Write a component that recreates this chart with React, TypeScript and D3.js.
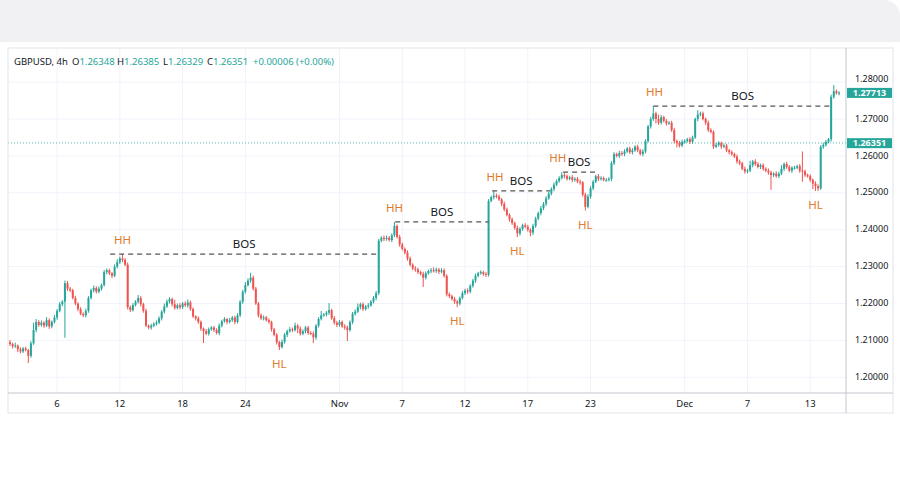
import React from "react";
import * as d3 from "d3";

// GBPUSD 4h, Oct 3 – Dec 14 2023. Prices are pips above 1.20000, six bars per trading day.
const BASE = 1.2;
const PIP = 0.0001;
const firstOpen = 95;

const closes = [
  90, 84, 86, 76, 70, 78,
  74, 58, 92, 128, 150, 142,
  148, 140, 155, 138, 150, 162,
  180, 198, 205, 255, 240, 236,
  215, 200, 185, 172, 168, 180,
  215, 236, 242, 232, 240, 250,
  285, 290, 282, 275, 300, 312,
  322, 318, 305, 190, 182, 196,
  205, 215, 198, 180, 140, 135,
  140, 145, 148, 160, 178, 192,
  205, 212, 198, 188, 195, 190,
  200, 195, 203, 185, 165, 160,
  150, 132, 125, 118, 130, 135,
  128, 120, 140, 152, 158, 150,
  155, 162, 150, 168, 205, 232,
  250, 262, 270, 240, 200, 168,
  160, 162, 155, 150, 130, 115,
  95, 82, 96, 115, 125, 130,
  128, 140, 132, 118, 125, 135,
  120, 118, 108, 140, 158, 168,
  170, 175, 182, 160, 148, 142,
  150, 138, 135, 128, 150, 172,
  178, 190, 198, 185, 192, 195,
  205, 215, 228, 370, 378, 375,
  378, 372, 385, 410, 380, 360,
  348, 338, 322, 305, 295, 292,
  285, 280, 270, 282, 288, 290,
  288, 292, 286, 290, 275, 225,
  220, 212, 205, 200, 215, 228,
  235, 232, 248, 262, 275, 282,
  285, 280, 278, 478, 488, 492,
  490, 482, 470, 455, 440, 428,
  418, 405, 390, 402, 412, 408,
  400, 392, 410, 430, 445, 458,
  470, 485, 498, 510, 522, 532,
  540, 548, 545, 538, 542, 535,
  538, 530, 528, 495, 462, 490,
  512, 530, 545, 538, 540, 535,
  535, 538, 580, 605, 600, 608,
  605, 612, 620, 610, 615, 625,
  615, 605, 612, 640, 680, 700,
  715, 700, 690, 705, 695, 688,
  690, 670, 640, 635, 628, 638,
  640, 645, 638, 650, 700, 712,
  715, 700, 690, 670, 665, 625,
  630, 635, 625, 628, 615, 610,
  605, 598, 585, 580, 565, 558,
  560, 575, 585, 578, 570, 575,
  565, 560, 555, 548, 552, 545,
  552, 565, 578, 570, 560, 568,
  568, 572, 560, 558, 548, 545,
  535, 525, 518, 512, 625, 630,
  638, 645, 760, 775, 770, 771.3,
];

const upperWicks = [
  6, 4, 8, 3, 5, 4,
  5, 3, 6, 20, 8, 5,
  6, 4, 8, 5, 4, 7,
  5, 6, 4, 7, 6, 5,
  4, 6, 3, 5, 4, 6,
  5, 4, 7, 5, 6, 4,
  6, 5, 4, 3, 6, 8,
  5, 12, 5, 6, 4, 5,
  4, 8, 5, 4, 6, 3,
  5, 4, 6, 5, 4, 8,
  6, 5, 4, 12, 5, 6,
  4, 6, 8, 5, 4, 3,
  5, 4, 3, 6, 5, 4,
  4, 5, 6, 4, 5, 3,
  6, 4, 5, 6, 4, 5,
  8, 6, 13, 6, 5, 4,
  5, 6, 4, 5, 3, 4,
  5, 4, 6, 5, 4, 6,
  5, 8, 4, 6, 5, 4,
  4, 5, 6, 4, 5, 12,
  4, 5, 19, 4, 6, 5,
  5, 4, 6, 5, 4, 5,
  6, 10, 4, 5, 4, 6,
  4, 5, 6, 5, 4, 6,
  6, 5, 5, 11, 4, 6,
  5, 4, 6, 5, 4, 6,
  5, 4, 6, 5, 4, 6,
  8, 5, 4, 6, 5, 4,
  5, 4, 6, 5, 4, 6,
  5, 6, 4, 5, 6, 4,
  5, 4, 6, 5, 4, 13,
  6, 5, 4, 6, 5, 4,
  5, 4, 6, 5, 4, 6,
  5, 4, 6, 5, 4, 6,
  5, 6, 4, 5, 6, 4,
  5, 8, 6, 5, 4, 6,
  4, 5, 6, 4, 5, 6,
  6, 5, 4, 6, 5, 4,
  5, 4, 6, 5, 4, 6,
  5, 6, 4, 5, 6, 4,
  5, 4, 6, 5, 4, 6,
  20, 5, 12, 6, 4, 5,
  4, 5, 6, 4, 5, 6,
  5, 4, 6, 5, 4, 12,
  5, 5, 4, 6, 5, 4,
  6, 5, 4, 6, 5, 4,
  5, 4, 6, 5, 4, 6,
  5, 12, 4, 6, 5, 4,
  5, 4, 6, 5, 4, 6,
  5, 10, 4, 6, 5, 4,
  5, 4, 6, 52, 5, 4,
  5, 4, 6, 5, 4, 6,
  5, 4, 6, 17, 5, 4,
];

const lowerWicks = [
  5, 6, 4, 8, 5, 4,
  4, 19, 5, 4, 6, 5,
  5, 6, 4, 7, 5, 4,
  6, 4, 5, 98, 6, 5,
  4, 5, 6, 4, 5, 6,
  5, 4, 6, 5, 4, 5,
  4, 6, 5, 6, 4, 5,
  5, 6, 4, 6, 5, 4,
  4, 5, 6, 5, 4, 5,
  6, 4, 5, 4, 6, 5,
  4, 5, 6, 5, 4, 6,
  5, 4, 6, 5, 4, 6,
  5, 6, 32, 4, 5, 4,
  5, 4, 6, 5, 4, 6,
  4, 5, 6, 4, 5, 6,
  5, 4, 6, 5, 4, 6,
  5, 6, 4, 5, 6, 4,
  6, 8, 4, 5, 6, 4,
  5, 4, 12, 5, 4, 6,
  5, 4, 15, 6, 5, 4,
  4, 5, 6, 4, 5, 6,
  5, 4, 6, 30, 4, 6,
  5, 4, 6, 5, 4, 6,
  4, 5, 6, 5, 4, 6,
  5, 4, 6, 5, 4, 6,
  4, 5, 6, 4, 5, 6,
  5, 4, 25, 5, 4, 6,
  4, 5, 6, 4, 5, 6,
  5, 4, 6, 10, 5, 4,
  5, 6, 4, 5, 6, 4,
  4, 5, 6, 5, 4, 6,
  5, 4, 6, 5, 4, 6,
  5, 5, 10, 6, 5, 4,
  5, 10, 6, 5, 4, 6,
  5, 6, 4, 5, 6, 4,
  5, 4, 6, 5, 4, 6,
  5, 4, 6, 5, 10, 4,
  6, 5, 4, 6, 5, 4,
  5, 4, 6, 5, 4, 6,
  5, 6, 4, 5, 6, 4,
  5, 4, 6, 5, 4, 6,
  5, 12, 6, 5, 4, 6,
  4, 5, 6, 12, 5, 4,
  5, 4, 6, 5, 4, 6,
  5, 4, 6, 5, 4, 6,
  4, 5, 6, 4, 5, 6,
  5, 4, 6, 5, 4, 6,
  5, 4, 6, 5, 4, 6,
  5, 4, 6, 40, 5, 4,
  5, 4, 6, 5, 4, 6,
  5, 4, 6, 28, 5, 4,
  5, 15, 13, 7, 4, 6,
  5, 4, 6, 5, 4, 6,
];

const dayTicks = [
  { label: "6", day: 3 },
  { label: "12", day: 7 },
  { label: "18", day: 11 },
  { label: "24", day: 15 },
  { label: "Nov", day: 21 },
  { label: "7", day: 25 },
  { label: "12", day: 29 },
  { label: "17", day: 33 },
  { label: "23", day: 37 },
  { label: "Dec", day: 43 },
  { label: "7", day: 47 },
  { label: "13", day: 51 },
];
const BARS_PER_DAY = 6;

const priceTicks = [1.2, 1.21, 1.22, 1.23, 1.24, 1.25, 1.26, 1.27, 1.28];

// swing bar, and the bar the label sits over
const swingHighs = [
  { bar: 43, at: 43 },
  { bar: 147, at: 147 },
  { bar: 185, at: 185.5 },
  { bar: 211, at: 209.5 },
  { bar: 246, at: 246.5 },
];
const swingLows = [103, 171, 194, 220, 308];
const breaks = [
  { from: 38.3, to: 140.8, bar: 43 },
  { from: 147.3, to: 183, bar: 147 },
  { from: 184.4, to: 206.5, bar: 185 },
  { from: 211.5, to: 223.7, bar: 211 },
  { from: 246, to: 314.4, bar: 246 },
];

const crossPrice = 1.26351;
const header = [
  { text: "GBPUSD, 4h", value: "" },
  { text: "O", value: "1.26348" },
  { text: "H", value: "1.26385" },
  { text: "L", value: "1.26329" },
  { text: "C", value: "1.26351" },
  { text: "", value: "+0.00006 (+0.00%)" },
];
const headerX = [14, 72, 117, 163, 207, 253];

const UP = "#26a69a";
const DOWN = "#ef5350";
const ORANGE = "#e07a2c";
const GRID = "#f0f3fa";
const TEXT = "#131722";
const FONT = "'Noto Sans', 'DejaVu Sans', sans-serif";

export default function App() {
  const candles = closes.map((c, i) => {
    const o = i === 0 ? firstOpen : closes[i - 1];
    const h = Math.max(o, c) + upperWicks[i];
    const l = Math.min(o, c) - lowerWicks[i];
    return { i, o: BASE + o * PIP, c: BASE + c * PIP, h: BASE + h * PIP, l: BASE + l * PIP };
  });

  const left = 8, top = 48, right = 846, bottom = 393, outerRight = 893, outerBottom = 413;

  const x = d3.scaleLinear().domain([0, candles.length - 1]).range([10, 839]);
  const y = d3.scaleLinear().domain([1.2, 1.28]).range([377.3, 82.1]);
  const bodyW = 2;
  const last = candles[candles.length - 1];
  const boxes = [last.c, crossPrice];

  // nudge a tick label away from a price box that sits right next to it
  const tickY = (p: number) => {
    let ty = y(p);
    boxes.forEach((b) => {
      const d = ty - y(b);
      if (Math.abs(d) < 13) ty += (d < 0 ? -1 : 1) * (13 - Math.abs(d));
    });
    return ty;
  };

  return (
    <svg width={900} height={500} style={{ position: "absolute", left: 0, top: 0 }} fontFamily={FONT}>
      <rect width={900} height={500} fill="#fff" />
      <path d="M0,0 H884 A16,16 0 0 1 900,16 V42 H0 Z" fill="#f1f1f4" />

      {/* grid */}
      {priceTicks.map((p) => (
        <line key={p} x1={left} x2={right} y1={y(p)} y2={y(p)} stroke={GRID} />
      ))}
      {dayTicks.map((t, k) => (
        <line key={k} x1={x(t.day * BARS_PER_DAY)} x2={x(t.day * BARS_PER_DAY)} y1={top} y2={bottom} stroke={GRID} />
      ))}

      {/* crosshair price line */}
      <line x1={left} x2={right} y1={y(crossPrice)} y2={y(crossPrice)} stroke={UP} strokeOpacity={0.8} strokeDasharray="1,2" />

      {/* candles */}
      {candles.map((d) => {
        const col = d.c >= d.o ? UP : DOWN;
        const cx = x(d.i);
        const yTop = y(Math.max(d.o, d.c));
        const yBot = y(Math.min(d.o, d.c));
        return (
          <g key={d.i}>
            <line x1={cx} x2={cx} y1={y(d.h)} y2={y(d.l)} stroke={col} strokeWidth={1} />
            <rect x={cx - bodyW / 2} y={yTop} width={bodyW} height={Math.max(1, yBot - yTop)} fill={col} />
          </g>
        );
      })}

      {/* break of structure */}
      {breaks.map((b, k) => {
        const lvl = y(candles[b.bar].h);
        return (
          <g key={k}>
            <line x1={x(b.from)} x2={x(b.to)} y1={lvl} y2={lvl} stroke="#555" strokeWidth={1.2} strokeDasharray="5,4" />
            <text x={(x(b.from) + x(b.to)) / 2} y={lvl - 6} textAnchor="middle" fontSize={11.5} fill={TEXT}>BOS</text>
          </g>
        );
      })}
      {swingHighs.map((s) => (
        <text key={s.bar} x={x(s.at)} y={y(candles[s.bar].h) - 10} textAnchor="middle" fontSize={11.5} fill={ORANGE}>HH</text>
      ))}
      {swingLows.map((b) => (
        <text key={b} x={x(b)} y={y(candles[b].l) + 18} textAnchor="middle" fontSize={11.5} fill={ORANGE}>HL</text>
      ))}

      {/* header */}
      {header.map((h, k) => (
        <text key={k} x={headerX[k]} y={65} fontSize={9.5} fill={TEXT}>
          {h.text}
          <tspan fill={UP}>{h.value}</tspan>
        </text>
      ))}

      {/* frame */}
      <rect x={left} y={top} width={outerRight - left} height={outerBottom - top} fill="none" stroke="#e0e3eb" />
      <line x1={right} x2={right} y1={top} y2={outerBottom} stroke="#c3c6ce" />
      <line x1={left} x2={outerRight} y1={bottom} y2={bottom} stroke="#c3c6ce" />

      {/* price axis */}
      {priceTicks.map((p) => (
        <text key={p} x={855} y={tickY(p) + 2.6} fontSize={9} fill={TEXT}>{p.toFixed(5)}</text>
      ))}
      {boxes.map((p, k) => (
        <g key={k}>
          <rect x={847} y={y(p) - 4.8} width={45} height={10} fill={UP} />
          <text x={869.5} y={y(p) + 3.1} fontSize={9} fill="#fff" textAnchor="middle" fontWeight="bold">{p.toFixed(5)}</text>
        </g>
      ))}

      {/* time axis */}
      {dayTicks.map((t, k) => (
        <text key={k} x={x(t.day * BARS_PER_DAY)} y={407} fontSize={9.5} fill={TEXT} textAnchor="middle">{t.label}</text>
      ))}
    </svg>
  );
}
